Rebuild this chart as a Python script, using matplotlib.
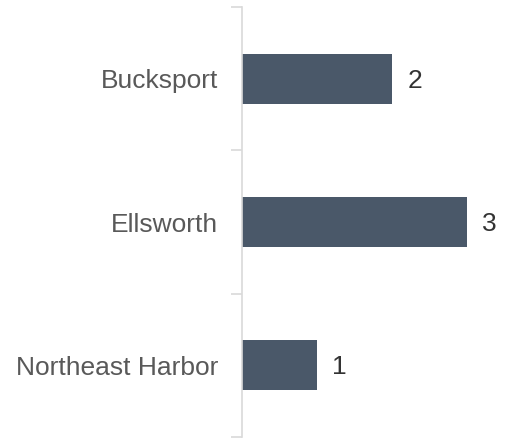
import matplotlib
matplotlib.use('Agg')
import matplotlib.pyplot as plt
import numpy as np

categories = ["Bucksport", "Ellsworth", "Northeast Harbor"]
values = [2, 3, 1]

plt.rcParams['font.family'] = ['Liberation Sans', 'DejaVu Sans']

fig = plt.figure(figsize=(5.05, 4.38), dpi=100)
ax = fig.add_axes([242 / 505, 1 - 437 / 438, 263 / 505, 430 / 438])

y = np.arange(len(categories))
ax.barh(y, values, height=0.35, color='#4a5869')

for yi, v in zip(y, values):
    ax.text(v + 0.2, yi + 0.015, str(v), va='center', ha='left', fontsize=19, color='#333333')

ax.set_xlim(0, 3.5)
ax.set_ylim(len(categories) - 0.5, -0.5)

# category labels at centres, tick marks at the category edges
ax.set_yticks(y)
ax.set_yticklabels(categories, fontsize=19, color='#595959')
ax.tick_params(axis='y', which='major', length=0, pad=17)
ax.set_yticks(np.arange(-0.5, len(categories)), minor=True)
ax.tick_params(axis='y', which='minor', length=8, width=1.2, color='#d9d9d9')
ax.set_xticks([])

for s in ['top', 'right', 'bottom']:
    ax.spines[s].set_visible(False)
ax.spines['left'].set_color('#d9d9d9')
ax.spines['left'].set_linewidth(1.2)

fig.savefig('out.png', dpi=100)
